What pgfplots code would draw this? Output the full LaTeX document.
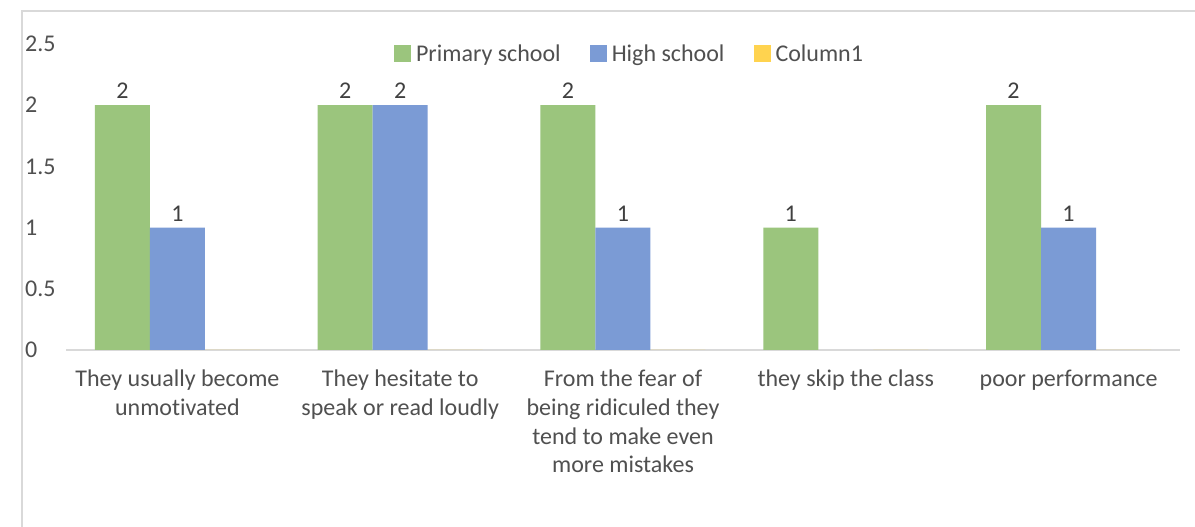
\documentclass[border=0pt]{standalone}
\usepackage{pgfplots}
\pgfplotsset{compat=1.18}
\usepackage{fontspec}
\setmainfont{Carlito}[Ligatures=NoCommon]

\definecolor{primgreen}{HTML}{9BC57D}
\definecolor{highblue}{HTML}{7B9BD5}
\definecolor{colyellow}{HTML}{FFD34F}
\definecolor{txtgray}{HTML}{505050}
\definecolor{lblgray}{HTML}{404040}
\definecolor{framegray}{HTML}{D9D9D9}

\begin{document}
\begin{tikzpicture}
% page frame
\path[use as bounding box] (0pt,0pt) rectangle (1195pt,527pt);
\fill[white] (0pt,0pt) rectangle (1195pt,527pt);
\draw[framegray, line width=1.2pt] (22pt,0pt) -- (22pt,516pt) -- (1195pt,516pt);
\coordinate (plotorigin) at (66pt,177pt);

\begin{axis}[
  at={(plotorigin)}, anchor=south west,
  scale only axis,
  width=1114pt, height=306pt,
  xmin=-0.5, xmax=4.5,
  ymin=0, ymax=2.5,
  ybar=0pt, bar width=55pt,
  clip=false,
  axis x line*=bottom,
  axis y line*=left,
  y axis line style={draw=none},
  x axis line style={framegray, line width=1.4pt},
  major tick length=0pt,
  ytick={0,0.5,1,1.5,2,2.5},
  yticklabels={0,0.5,1,1.5,2,2.5},
  yticklabel style={anchor=west, inner sep=0pt, xshift=-41pt,
    font=\fontsize{24}{29}\selectfont, text=txtgray},
  xtick={0,1,2,3,4},
  xticklabels={
    They usually become\\unmotivated,
    They hesitate to\\speak or read loudly,
    From the fear of\\being ridiculed they\\tend to make even\\more mistakes,
    they skip the class,
    poor performance},
  xticklabel style={anchor=north, inner sep=0pt, yshift=-20pt, align=center,
    font=\fontsize{24}{28.7}\selectfont, text=txtgray},
  nodes near coords,
  every node near coord/.append style={anchor=south, inner sep=0pt, yshift=6pt,
    font=\fontsize{24}{29}\selectfont, text=lblgray},
  /pgf/number format/assume math mode=true,
  legend columns=3,
  legend style={at={(0.505,0.968)}, anchor=center, draw=none, fill=none,
    font=\fontsize{24}{29}\selectfont, text=txtgray,
    nodes={inner sep=0pt},
    /tikz/every odd column/.append style={column sep=5pt},
    /tikz/every even column/.append style={column sep=29pt}},
  legend image code/.code={\fill[#1] (0pt,-8pt) rectangle (17pt,9pt);},
]
\addplot[fill=primgreen, draw=none] coordinates {(0,2) (1,2) (2,2) (3,1) (4,2)};
\addlegendentry{Primary school}
\addplot[fill=highblue, draw=none] coordinates {(0,1) (1,2) (2,1) (4,1)};
\addlegendentry{High school}
\addplot[fill=colyellow, draw=none, nodes near coords=] coordinates {(0,0) (1,0) (2,0) (3,0) (4,0)};
\addlegendentry{Column1}
\end{axis}
\end{tikzpicture}
\end{document}
